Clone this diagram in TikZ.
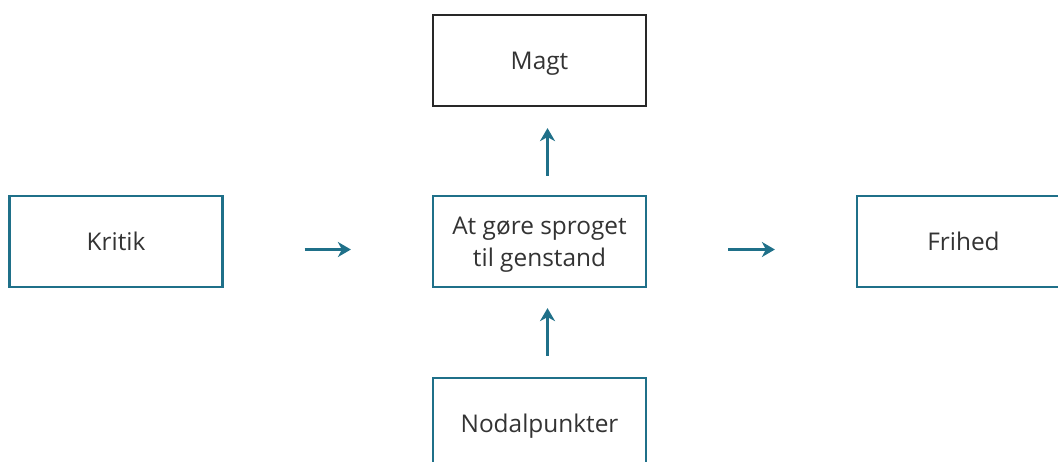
\documentclass[tikz,border=0pt]{standalone}
\usepackage{fontspec}
\setmainfont{Open Sans}
\usepackage{xcolor}
\definecolor{boxteal}{RGB}{31,112,137}
\definecolor{boxdark}{RGB}{40,40,40}
\definecolor{textgray}{RGB}{51,51,51}
\usepackage{tikz}
\usetikzlibrary{arrows.meta}

\begin{document}
\begin{tikzpicture}[x=0.5pt,y=-0.5pt]
            % Styles
            \tikzset{
                concept/.style={draw=boxteal, line width=1.1pt, minimum width=106.5pt, minimum height=45.5pt, align=center, text=textgray, font=\fontsize{12.2}{16.2}\selectfont, inner sep=0pt, text depth=0pt},
                flow/.style={draw=boxteal, line width=1.15pt, -{Stealth[length=6.5pt,width=7.5pt,inset=2pt]}}
            }
            % Canvas
            \useasboundingbox (0,0) rectangle (1058,461);
            % Boxes
            \node[concept, draw=boxdark] (magt) at (539.5,60.5) {Magt};
            \node[concept] (sprog) at (539.5,241.5) {At gøre sproget\\til genstand};
            \node[concept] (kritik) at (116,241.5) {Kritik};
            \node[concept] (frihed) at (963.5,241.5) {Frihed};
            \node[concept] (nodal) at (539.5,423.5) {Nodalpunkter};
            % Arrows
            \draw[flow, shorten <=40.5pt, shorten >=40.5pt] ([yshift=-4pt]kritik.east) -- ([yshift=-4pt]sprog.west);
            \draw[flow, shorten <=40.5pt, shorten >=40.5pt] ([yshift=-4pt]sprog.east) -- ([yshift=-4pt]frihed.west);
            \draw[flow, shorten <=9.5pt, shorten >=10.5pt] ([xshift=4pt]sprog.north) -- ([xshift=4pt]magt.south);
            \draw[flow, shorten <=10.5pt, shorten >=10pt] ([xshift=4pt]nodal.north) -- ([xshift=4pt]sprog.south);
        \end{tikzpicture}
\end{document}
